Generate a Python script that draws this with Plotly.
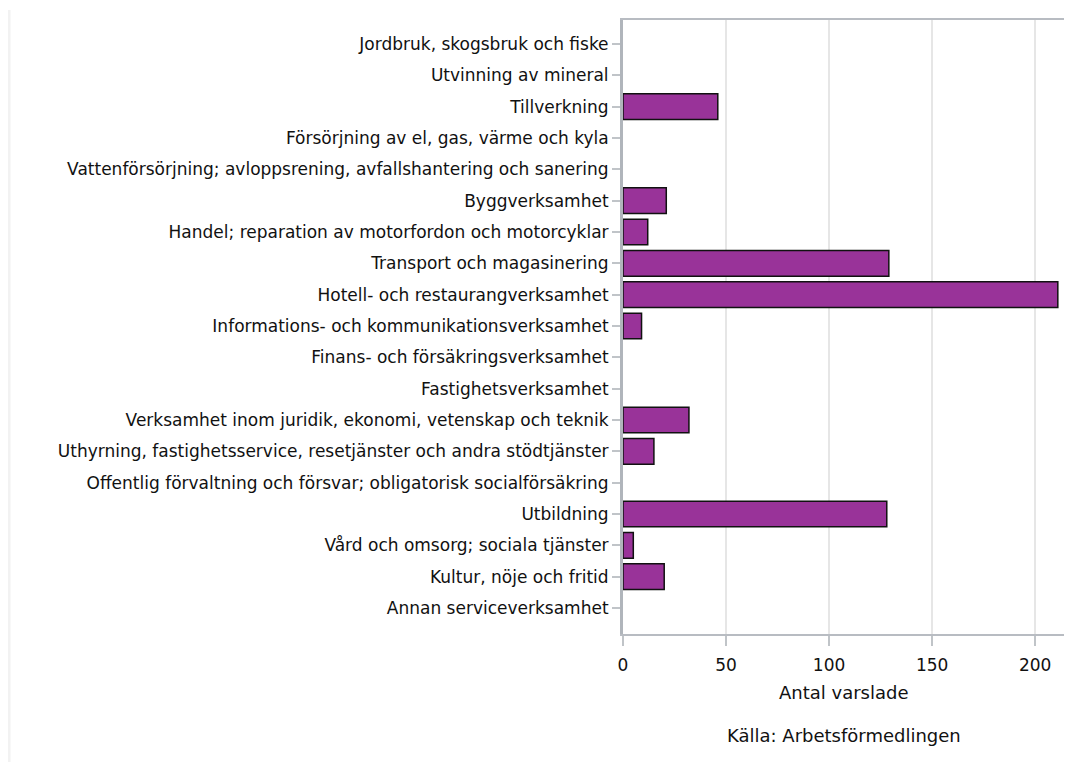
import plotly.graph_objects as go

categories = [
    "Jordbruk, skogsbruk och fiske",
    "Utvinning av mineral",
    "Tillverkning",
    "Försörjning av el, gas, värme och kyla",
    "Vattenförsörjning; avloppsrening, avfallshantering och sanering",
    "Byggverksamhet",
    "Handel; reparation av motorfordon och motorcyklar",
    "Transport och magasinering",
    "Hotell- och restaurangverksamhet",
    "Informations- och kommunikationsverksamhet",
    "Finans- och försäkringsverksamhet",
    "Fastighetsverksamhet",
    "Verksamhet inom juridik, ekonomi, vetenskap och teknik",
    "Uthyrning, fastighetsservice, resetjänster och andra stödtjänster",
    "Offentlig förvaltning och försvar; obligatorisk socialförsäkring",
    "Utbildning",
    "Vård och omsorg; sociala tjänster",
    "Kultur, nöje och fritid",
    "Annan serviceverksamhet",
]
values = [0, 0, 46, 0, 0, 21, 12, 129, 211, 9, 0, 0, 32, 15, 0, 128, 5, 20, 0]
x_ticks = [0, 50, 100, 150, 200]
x_title = "Antal varslade"
source_text = "Källa: Arbetsförmedlingen"

font_family = "DejaVu Sans"
text_color = "#111111"

# Figure-space geometry (page has an 8px body offset)
L, R, T, B = 615, 16, 12, 136
plot_h = 762 - T - B
plot_w = 1072 - L - R

line_widths = [1.5 if v > 0 else 0 for v in values]

fig = go.Figure(
    go.Bar(
        x=values,
        y=categories,
        orientation="h",
        width=0.82,
        marker=dict(color="#993399", line=dict(color="#111111", width=line_widths)),
    )
)

fig.update_layout(
    width=1072,
    height=762,
    margin=dict(l=L, r=R, t=T, b=B, autoexpand=False),
    paper_bgcolor="white",
    plot_bgcolor="white",
    showlegend=False,
    font=dict(family=font_family, size=17, color=text_color),
)

fig.update_xaxes(
    range=[0, 214],
    tickvals=x_ticks,
    ticks="outside",
    ticklen=10,
    ticklabelstandoff=5,
    tickcolor="#c0c4c8",
    tickwidth=2,
    showgrid=True,
    gridcolor="#e6e6e6",
    gridwidth=2,
    showline=True,
    linecolor="#b8bcc2",
    linewidth=2,
    mirror=True,
    zeroline=False,
    tickfont=dict(size=17),
)

fig.update_yaxes(
    categoryorder="array",
    categoryarray=categories,
    range=[18.83, -0.766],
    ticks="outside",
    ticklen=8,
    tickcolor="#c0c4c8",
    tickwidth=2,
    showgrid=False,
    showline=True,
    linecolor="#b0b5bb",
    linewidth=3,
    mirror=True,
    tickfont=dict(size=17),
)

# x-axis title and source line
fig.add_annotation(
    text=x_title,
    xref="paper", yref="paper",
    x=0.5, y=(626 - 684) / plot_h,
    xanchor="center", yanchor="middle",
    showarrow=False,
    font=dict(size=18, family=font_family, color=text_color),
)
fig.add_annotation(
    text=source_text,
    xref="paper", yref="paper",
    x=0.5, y=(626 - 727) / plot_h,
    xanchor="center", yanchor="middle",
    showarrow=False,
    font=dict(size=18, family=font_family, color=text_color),
)

# faint frame line at the far left
fig.add_shape(
    type="line", xref="paper", yref="paper",
    x0=(1 - L) / plot_w, x1=(1 - L) / plot_w,
    y0=(626 - 2) / plot_h, y1=-0.25,
    line=dict(color="#f2f2f2", width=3),
)

fig.write_html("out.html")
